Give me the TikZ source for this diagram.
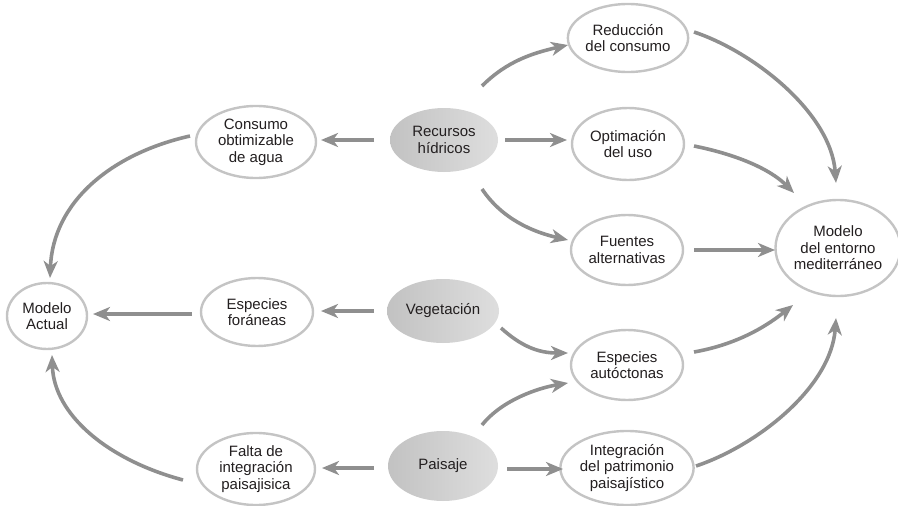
\documentclass[tikz,border=0pt]{standalone}
\usepackage{fontspec}
\setmainfont{Liberation Sans}
\usetikzlibrary{arrows.meta,shapes.geometric}
\definecolor{arrowgray}{HTML}{8F8F8F}
\definecolor{rimgray}{HTML}{C4C4C4}
\definecolor{txt}{HTML}{231F20}
\definecolor{shadeA}{HTML}{C2C2C2}
\definecolor{shadeB}{HTML}{DEDEDE}
\tikzset{
  box/.style={ellipse, draw=rimgray, line width=2.4pt, fill=white, inner sep=0pt,
    align=center, text=txt, font=\fontsize{15}{16.5}\selectfont},
  hub/.style={ellipse, inner sep=0pt, left color=shadeA, right color=shadeB,
    align=center, text=txt, font=\fontsize{15}{16.5}\selectfont},
  arr/.style={draw=arrowgray, line width=3.6pt,
    -{Stealth[length=17pt,width=14pt,inset=5pt]}},
}
\begin{document}
\begin{tikzpicture}[x=1pt,y=-1pt]
\useasboundingbox (0,0) rectangle (898,506);
% nodes
\node[box, minimum width=112, minimum height=68] (red) at (628,38) {Reducción\\del consumo};
\node[box, minimum width=112, minimum height=72] (opt) at (628,144) {Optimación\\del uso};
\node[box, minimum width=112, minimum height=70] (fue) at (627,250) {Fuentes\\alternativas};
\node[box, minimum width=112, minimum height=96] (med) at (838,248) {Modelo\\del entorno\\mediterráneo};
\node[hub, minimum width=108, minimum height=64] (rec) at (444,140) {Recursos\\hídricos};
\node[box, minimum width=120, minimum height=72] (cons) at (256,142) {Consumo\\obtimizable\\de agua};
\node[box, minimum width=80, minimum height=66] (act) at (47,316) {Modelo\\Actual};
\node[box, minimum width=112, minimum height=68] (esf) at (257,312) {Especies\\foráneas};
\node[hub, minimum width=112, minimum height=64] (veg) at (443,311) {Vegetación};
\node[box, minimum width=112, minimum height=70] (esa) at (627,365) {Especies\\autóctonas};
\node[box, minimum width=118, minimum height=72] (fal) at (256,469) {Falta de\\integración\\paisajisica};
\node[hub, minimum width=110, minimum height=70] (pai) at (443,466) {Paisaje};
\node[box, minimum width=120, minimum height=74] (int) at (627,468) {Integración\\del patrimonio\\paisajístico};
% straight connectors
\draw[arr] ([shift={(-70,0)}]rec.center) -- ([shift={(65,-2)}]cons.center);
\draw[arr] ([shift={(-65,2)}]esf.center) -- ([shift={(46,-2)}]act.center);
\draw[arr] ([shift={(-69,0)}]veg.center) -- ([shift={(64,-1)}]esf.center);
\draw[arr] ([shift={(-69,2)}]pai.center) -- ([shift={(66,-1)}]fal.center);
\draw[arr] ([shift={(61,0)}]rec.center) -- ([shift={(-61,-4)}]opt.center);
\draw[arr] ([shift={(67,0)}]fue.center) -- ([shift={(-63,2)}]med.center);
\draw[arr] ([shift={(64,3)}]pai.center) -- ([shift={(-64,1)}]int.center);
% curved connectors
\draw[arr] ([shift={(-66,-6)}]cons.center) .. controls +(-80,18) and +(3,-75) .. ([shift={(3,-38)}]act.center);
\draw[arr] ([shift={(-73,11)}]fal.center) .. controls +(-75,-20) and +(2,60) .. ([shift={(5,39)}]act.center);
\draw[arr] ([shift={(38,-54)}]rec.center) .. controls +(25,-25) and +(-35,8) .. ([shift={(-60,7)}]red.center);
\draw[arr] ([shift={(38,49)}]rec.center) .. controls +(20,30) and +(-35,-8) .. ([shift={(-59,-10)}]fue.center);
\draw[arr] ([shift={(66,-6)}]red.center) .. controls +(60,20) and +(-5,-70) .. ([shift={(-2,-65)}]med.center);
\draw[arr] ([shift={(66,2)}]opt.center) .. controls +(40,8) and +(-25,-25) .. ([shift={(-44,-55)}]med.center);
\draw[arr] ([shift={(58,17)}]veg.center) .. controls +(20,18) and +(-30,0) .. ([shift={(-59,-12)}]esa.center);
\draw[arr] ([shift={(39,-41)}]pai.center) .. controls +(20,-25) and +(-30,5) .. ([shift={(-59,18)}]esa.center);
\draw[arr] ([shift={(67,-13)}]esa.center) .. controls +(45,-8) and +(-25,20) .. ([shift={(-45,57)}]med.center);
\draw[arr] ([shift={(69,-2)}]int.center) .. controls +(60,-20) and +(-5,70) .. ([shift={(-2,70)}]med.center);
\end{tikzpicture}
\end{document}
